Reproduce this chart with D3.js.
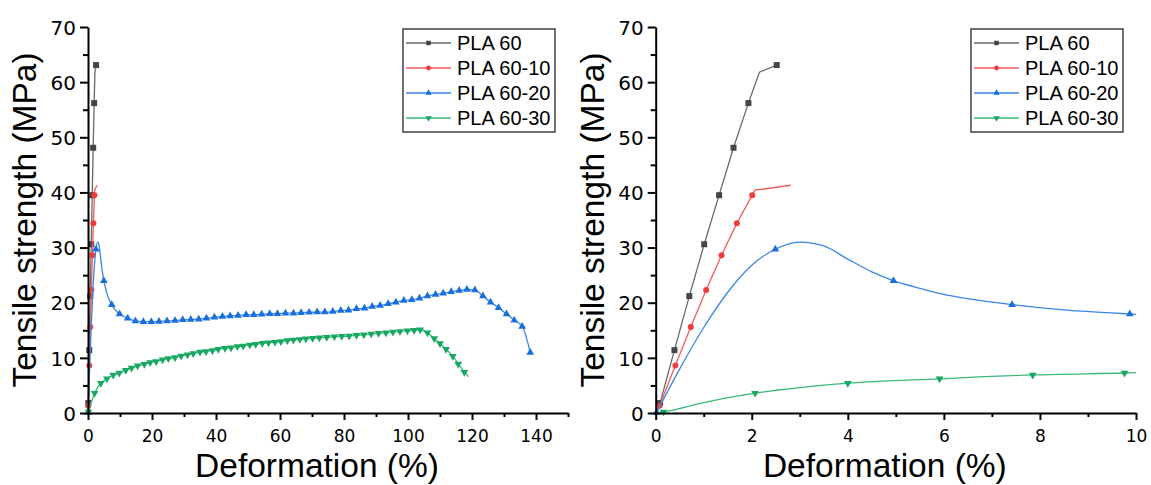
<!DOCTYPE html>
<html><head><meta charset="utf-8">
<script src="https://cdn.jsdelivr.net/npm/d3@7"></script>
<style>body{margin:0;background:#fff} svg{display:block}</style>
</head><body><svg id="c" width="1151" height="485"></svg>
<script>
// ---- data (x = deformation %, y = tensile strength MPa, m = 1 if a marker is drawn) ----
const seriesNames = ["PLA 60", "PLA 60-10", "PLA 60-20", "PLA 60-30"];

const pla60 = [[0,0,0],[0.09,1.8,1],[0.39,11.4,1],[0.70,21.2,1],[1.01,30.6,1],[1.32,39.5,1],
  [1.62,48.1,1],[1.93,56.2,1],[2.16,61.8,0],[2.52,63.1,1]];

const pla60_10 = [[0,0,0],[0.08,1.3,1],[0.41,8.6,1],[0.73,15.6,1],[1.05,22.3,1],[1.37,28.6,1],
  [1.69,34.4,1],[2.01,39.5,1],[2.07,40.4,0],[2.81,41.3,0]];

const pla60_20 = [[0.02,0.1,1],[0.5,8.0,0],[1.0,15.5,0],[1.5,21.9,0],[2.0,26.8,0],[2.49,29.7,1],
  [3.0,31.0,0],[3.5,30.3,0],[4.0,27.9,0],[4.5,25.6,0],[4.95,24.0,1],[5.5,22.6,0],[6.0,21.5,0],
  [6.6,20.6,0],[7.42,19.65,1],[8.5,18.7,0],[9.87,17.96,1],[12.4,17.2,1],[14.8,16.7,1],
  [17.3,16.56,1],[19.8,16.56,1],[22.2,16.6,1],[24.7,16.7,1],[27.2,16.75,1],[29.6,16.9,1],
  [32.1,16.95,1],[34.6,17.0,1],[37.0,17.2,1],[39.5,17.35,1],[42.0,17.5,1],[44.4,17.6,1],
  [46.9,17.7,1],[49.4,17.8,1],[51.8,17.8,1],[54.3,17.9,1],[56.8,18.0,1],[59.2,18.0,1],
  [61.7,18.1,1],[64.2,18.1,1],[66.6,18.2,1],[69.1,18.25,1],[71.6,18.3,1],[74.0,18.3,1],
  [76.5,18.4,1],[79.0,18.6,1],[81.4,18.65,1],[83.9,18.9,1],[86.4,19.0,1],[88.8,19.3,1],
  [91.3,19.5,1],[93.8,19.8,1],[96.2,20.1,1],[98.7,20.4,1],[101.2,20.55,1],[103.6,20.8,1],
  [106.1,21.2,1],[108.6,21.5,1],[111.0,21.7,1],[113.5,22.0,1],[116.0,22.2,1],[118.4,22.4,1],
  [120.9,22.3,1],[123.4,21.2,1],[125.8,20.1,1],[128.3,19.1,1],[130.8,17.95,1],[133.2,16.8,1],
  [135.7,15.7,1],[138.2,10.96,1]];

const pla60_30 = [[0,0,0],[0.16,0.2,1],[1.0,1.9,0],[2.07,3.6,1],[3.0,4.6,0],[4.0,5.4,1],
  [5.91,6.2,1],[7.85,6.9,1],[9.76,7.25,1],[11.8,7.75,1],[13.6,8.15,1],[15.5,8.55,1],
  [17.6,8.85,1],[19.4,9.15,1],[21.3,9.35,1],[23.3,9.65,1],[25.1,9.9,1],[27.2,10.05,1],
  [29.1,10.35,1],[31.1,10.55,1],[32.9,10.8,1],[35.0,11.05,1],[36.9,11.15,1],[38.9,11.35,1],
  [40.7,11.55,1],[42.8,11.75,1],[44.7,11.85,1],[46.7,12.05,1],[48.5,12.15,1],[50.6,12.35,1],
  [52.4,12.45,1],[54.5,12.65,1],[56.4,12.75,1],[58.4,12.85,1],[60.3,12.95,1],[62.3,13.15,1],
  [64.2,13.25,1],[66.2,13.35,1],[68.1,13.45,1],[70.2,13.55,1],[72.3,13.65,1],[74.6,13.72,1],
  [77.0,13.85,1],[79.3,13.9,1],[81.6,13.96,1],[83.9,14.1,1],[86.2,14.2,1],[88.5,14.35,1],
  [90.8,14.45,1],[93.1,14.57,1],[95.3,14.7,1],[97.5,14.8,1],[99.8,14.9,1],[101.9,15.0,1],
  [103.8,15.1,1],[106.1,14.55,1],[108.2,13.5,1],[110.0,12.6,1],[111.9,11.55,1],[114.0,10.3,1],
  [115.7,8.9,1],[117.6,7.4,1],[118.9,6.6,0]];

const yTicks = [0,10,20,30,40,50,60,70];
const yMinor = [5,15,25,35,45,55,65];
const xTicksLeft = [0,20,40,60,80,100,120,140];
const xMinorLeft = [10,30,50,70,90,110,130,150];
const xTicksRight = [0,2,4,6,8,10];
const xMinorRight = [1,3,5,7,9];
const xTitle = "Deformation (%)";
const yTitle = "Tensile strength (MPa)";

// ---- styles ----
const allSeries = [pla60, pla60_10, pla60_20, pla60_30];
const colors = ["#454545", "#f23b3b", "#1a6fdf", "#17a862"];
const lineColors = ["#6a6a6a", "#f45a5a", "#3a86e6", "#3bb97a"];
const curves = [d3.curveLinear, d3.curveLinear, d3.curveMonotoneX, d3.curveMonotoneX];
const symbols = [d3.symbolSquare, d3.symbolCircle, d3.symbolTriangle, d3.symbolTriangle];
const rot = [0, 0, 0, 180];
const msize = [36, 28, 26, 26];
const lsize = [20, 18, 18, 18];
const TOP = 27, BOT = 413;
const svg = d3.select("#c");

function plot(o) {
  const x = d3.scaleLinear().domain(o.xDomain).range([o.left, o.right]);
  const y = d3.scaleLinear().domain([0, 70]).range([BOT, TOP]);
  const clipId = "clip" + o.id;
  svg.append("clipPath").attr("id", clipId).append("rect")
    .attr("x", o.left - 6).attr("y", 0).attr("width", o.right - o.left + 6).attr("height", 430);
  const g = svg.append("g");
  allSeries.forEach((s, i) => {
    const line = d3.line().x(d => x(d[0])).y(d => y(d[1])).curve(curves[i]);
    g.append("path").datum(s).attr("clip-path", `url(#${clipId})`)
      .attr("fill", "none").attr("stroke", lineColors[i]).attr("stroke-width", 1.3).attr("d", line);
    g.selectAll(null).data(s.filter(d => d[2] && d[0] <= o.xDomain[1])).enter().append("path")
      .attr("d", d3.symbol().type(symbols[i]).size(msize[i]))
      .attr("transform", d => `translate(${x(d[0])},${y(d[1])}) rotate(${rot[i]})`)
      .attr("fill", colors[i]);
  });

  // axes
  const gx = svg.append("g").attr("transform", `translate(0,${BOT})`)
    .call(d3.axisBottom(x).tickValues(o.xTicks).tickSize(7).tickSizeOuter(0));
  gx.select(".domain").attr("stroke", "#000").attr("stroke-width", 2);
  gx.selectAll(".tick line").attr("stroke", "#000").attr("stroke-width", 2);
  gx.selectAll("text").attr("font-family", "DejaVu Sans").attr("font-size", 17)
    .attr("fill", "#000").attr("y", 29).attr("dy", 0);
  const gxm = svg.append("g").attr("transform", `translate(0,${BOT})`)
    .call(d3.axisBottom(x).tickValues(o.xMinor).tickSize(4).tickFormat(""));
  gxm.select(".domain").remove();
  gxm.selectAll(".tick line").attr("stroke", "#000").attr("stroke-width", 2);

  const gy = svg.append("g").attr("transform", `translate(${o.left},0)`)
    .call(d3.axisLeft(y).tickValues(yTicks).tickSize(8).tickSizeOuter(0));
  gy.select(".domain").attr("stroke", "#000").attr("stroke-width", 2);
  gy.selectAll(".tick line").attr("stroke", "#000").attr("stroke-width", 2);
  gy.selectAll("text").attr("font-family", "DejaVu Sans").attr("font-size", 20)
    .attr("fill", "#000").attr("x", -12).attr("dy", "0.36em");
  const gym = svg.append("g").attr("transform", `translate(${o.left},0)`)
    .call(d3.axisLeft(y).tickValues(yMinor).tickSize(5).tickFormat(""));
  gym.select(".domain").remove();
  gym.selectAll(".tick line").attr("stroke", "#000").attr("stroke-width", 2);

  // titles
  svg.append("text").attr("x", (o.left + o.right) / 2 - 11).attr("y", 477)
    .attr("text-anchor", "middle").attr("font-family", "Liberation Sans, Arial")
    .attr("font-size", 33.5).attr("fill", "#000").text(xTitle);
  svg.append("text").attr("transform", `translate(${o.left - 52},${(TOP + BOT) / 2}) rotate(-90)`)
    .attr("text-anchor", "middle").attr("font-family", "Liberation Sans, Arial")
    .attr("font-size", 33.5).attr("fill", "#000").text(yTitle);

  // legend
  const lx = o.right - 165, ly = 29;
  const lg = svg.append("g");
  lg.append("rect").attr("x", lx).attr("y", ly).attr("width", 152).attr("height", 103)
    .attr("fill", "#fff").attr("stroke", "#4d4d4d").attr("stroke-width", 1.6);
  seriesNames.forEach((nm, i) => {
    const yy = ly + 14 + i * 25;
    lg.append("line").attr("x1", lx + 3).attr("x2", lx + 48).attr("y1", yy).attr("y2", yy)
      .attr("stroke", lineColors[i]).attr("stroke-width", 1.5);
    lg.append("path").attr("d", d3.symbol().type(symbols[i]).size(lsize[i]))
      .attr("transform", `translate(${lx + 25.5},${yy}) rotate(${rot[i]})`).attr("fill", colors[i]);
    lg.append("text").attr("x", lx + 54).attr("y", yy + 7).attr("font-family", "Liberation Sans, Arial")
      .attr("font-size", 20).attr("fill", "#000").text(nm);
  });
}

plot({id: "L", left: 88, right: 568, xDomain: [0, 150], xTicks: xTicksLeft, xMinor: xMinorLeft});
plot({id: "R", left: 655.7, right: 1136, xDomain: [0, 10], xTicks: xTicksRight, xMinor: xMinorRight});
</script>
</body></html>
